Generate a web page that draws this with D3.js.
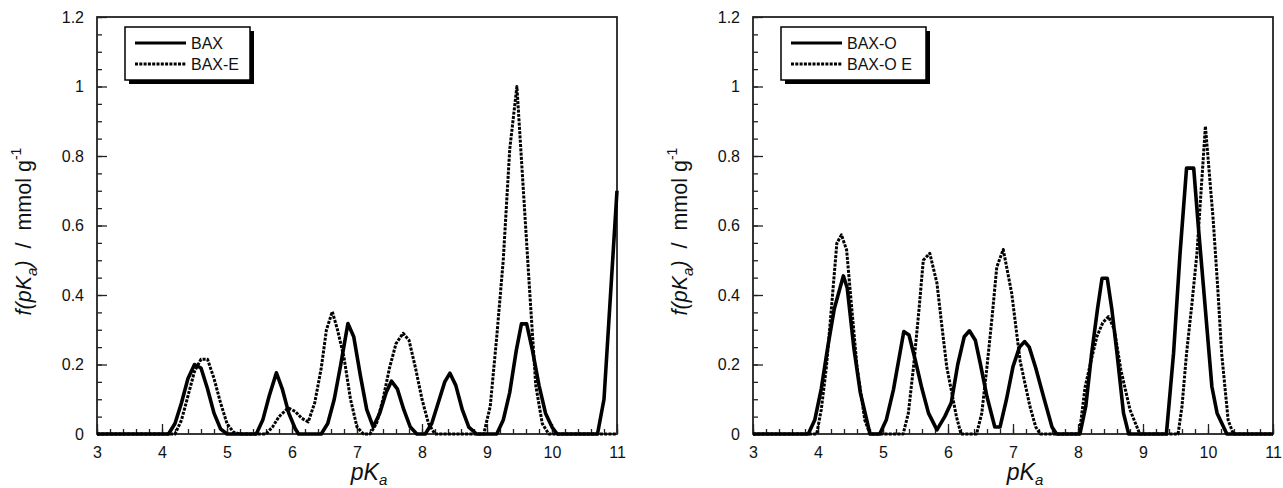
<!DOCTYPE html>
<html>
<head>
<meta charset="utf-8">
<script src="https://cdn.jsdelivr.net/npm/d3@7"></script>
<style>
  body { margin: 0; background: #fff; }
  text { font-family: "Liberation Sans", Arial, sans-serif; fill: #111; }
</style>
</head>
<body>
<div id="chart"></div>
<script>
// left panel: BAX / BAX-E
const baxX = [3, 4.1, 4.2, 4.3, 4.4, 4.5, 4.6, 4.7, 4.8, 4.9, 5.0, 5.45, 5.55, 5.65, 5.76, 5.85, 5.95, 6.05, 6.1,
  6.45, 6.55, 6.65, 6.75, 6.86, 6.95, 7.05, 7.15, 7.25, 7.35, 7.45, 7.53, 7.62, 7.72, 7.82, 7.92,
  8.05, 8.15, 8.25, 8.35, 8.43, 8.52, 8.62, 8.72, 8.84, 9.15, 9.25, 9.35, 9.45, 9.53, 9.61, 9.7, 9.8, 9.9, 10.0, 10.08,
  10.7, 10.8, 11];
const baxY = [0, 0, 0.03, 0.09, 0.16, 0.2, 0.19, 0.13, 0.06, 0.015, 0, 0, 0.04, 0.11, 0.176, 0.13, 0.06, 0.015, 0,
  0, 0.03, 0.1, 0.2, 0.318, 0.28, 0.17, 0.07, 0.02, 0.06, 0.12, 0.152, 0.13, 0.07, 0.02, 0,
  0, 0.03, 0.09, 0.15, 0.175, 0.14, 0.07, 0.02, 0, 0, 0.04, 0.12, 0.24, 0.317, 0.317, 0.24, 0.14, 0.06, 0.02, 0,
  0, 0.1, 0.7];

const baxEX = [3, 4.2, 4.3, 4.4, 4.5, 4.6, 4.7, 4.8, 4.9, 5.0, 5.1, 5.2, 5.6, 5.7, 5.8, 5.94, 6.05, 6.15, 6.25,
  6.35, 6.45, 6.53, 6.62, 6.7, 6.8, 6.9, 7.0, 7.1, 7.2, 7.3, 7.4, 7.5, 7.6, 7.71, 7.8, 7.9, 8.0, 8.1, 8.2,
  8.95, 9.05, 9.15, 9.25, 9.35, 9.46, 9.55, 9.65, 9.75, 9.85, 9.95, 11];
const baxEY = [0, 0, 0.04, 0.11, 0.18, 0.215, 0.215, 0.16, 0.09, 0.03, 0.005, 0, 0, 0.02, 0.05, 0.075, 0.065, 0.045, 0.035,
  0.09, 0.19, 0.3, 0.352, 0.3, 0.22, 0.1, 0.02, 0, 0, 0.03, 0.1, 0.19, 0.26, 0.29, 0.27, 0.19, 0.1, 0.03, 0,
  0, 0.08, 0.28, 0.5, 0.82, 1.0, 0.73, 0.43, 0.14, 0.03, 0, 0];

// right panel: BAX-O / BAX-O E
const baxOX = [3, 3.85, 3.95, 4.05, 4.15, 4.25, 4.39, 4.45, 4.55, 4.65, 4.7, 4.8, 4.95, 5.05, 5.16, 5.32, 5.4, 5.5, 5.6, 5.7, 5.83,
  5.95, 6.05, 6.15, 6.25, 6.33, 6.42, 6.5, 6.6, 6.72, 6.8, 6.9, 7.0, 7.1, 7.18, 7.25, 7.35, 7.47, 7.6, 7.67,
  8.03, 8.12, 8.21, 8.3, 8.37, 8.45, 8.52, 8.6, 8.7, 8.78, 9.36, 9.47, 9.57, 9.67, 9.78, 9.85, 9.93, 10.06, 10.14, 10.29, 11];
const baxOY = [0, 0, 0.04, 0.13, 0.25, 0.36, 0.455, 0.42, 0.25, 0.12, 0.08, 0, 0, 0.04, 0.127, 0.295, 0.285, 0.21, 0.13, 0.06, 0.012,
  0.05, 0.09, 0.2, 0.28, 0.297, 0.27, 0.2, 0.107, 0.02, 0.02, 0.1, 0.194, 0.25, 0.266, 0.25, 0.19, 0.107, 0.02, 0,
  0, 0.08, 0.232, 0.36, 0.448, 0.448, 0.36, 0.232, 0.06, 0, 0, 0.232, 0.52, 0.765, 0.765, 0.6, 0.424, 0.136, 0.06, 0, 0];

const baxOEX = [3, 3.98, 4.05, 4.13, 4.21, 4.29, 4.36, 4.44, 4.52, 4.6, 4.72, 4.8, 5.31, 5.39, 5.47, 5.55, 5.62, 5.72, 5.83, 5.9, 5.98, 6.13, 6.2,
  6.44, 6.52, 6.6, 6.68, 6.75, 6.85, 6.98, 7.11, 7.26, 7.35, 7.42, 8.02, 8.11, 8.2, 8.29, 8.38, 8.47, 8.56, 8.66, 8.8, 8.95,
  9.54, 9.6, 9.67, 9.75, 9.83, 9.96, 10.08, 10.15, 10.21, 10.31, 10.39, 11];
const baxOEY = [0, 0, 0.07, 0.194, 0.37, 0.549, 0.573, 0.53, 0.36, 0.194, 0.04, 0, 0, 0.06, 0.194, 0.35, 0.5, 0.52, 0.434, 0.32, 0.194, 0.05, 0,
  0, 0.06, 0.194, 0.34, 0.48, 0.531, 0.405, 0.21, 0.08, 0.02, 0, 0, 0.136, 0.21, 0.28, 0.32, 0.338, 0.3, 0.184, 0.07, 0,
  0, 0.08, 0.232, 0.37, 0.52, 0.886, 0.616, 0.42, 0.232, 0.04, 0, 0];

const xTickLabels = [3, 4, 5, 6, 7, 8, 9, 10, 11];
const yTickLabels = [0, 0.2, 0.4, 0.6, 0.8, 1, 1.2];

const panels = [
  { left: 97, series: [
      { name: "BAX", xs: baxX, ys: baxY, dash: null },
      { name: "BAX-E", xs: baxEX, ys: baxEY, dash: "3,1.3" }],
    legendW: 125 },
  { left: 753, series: [
      { name: "BAX-O", xs: baxOX, ys: baxOY, dash: null },
      { name: "BAX-O E", xs: baxOEX, ys: baxOEY, dash: "3,1.3" }],
    legendW: 145 }
];

document.addEventListener('DOMContentLoaded', () => {
  const top = 17, plotW = 520, plotH = 417;

  const svg = d3.select("#chart")
    .append("svg")
    .attr("width", 1283)
    .attr("height", 488);

  panels.forEach(p => {
    const g = svg.append("g").attr("transform", `translate(${p.left},${top})`);

    const x = d3.scaleLinear().domain([3, 11]).range([0, plotW]);
    const y = d3.scaleLinear().domain([0, 1.2]).range([plotH, 0]);

    // minor ticks
    g.append("g")
      .attr("transform", `translate(0,${plotH})`)
      .call(d3.axisBottom(x).tickValues(d3.range(3, 11.01, 0.2)).tickSize(-5).tickFormat(""))
      .call(a => a.select(".domain").remove());
    g.append("g")
      .call(d3.axisLeft(y).tickValues(d3.range(0, 1.201, 0.05)).tickSize(-5).tickFormat(""))
      .call(a => a.select(".domain").remove());

    // major ticks + labels
    g.append("g")
      .attr("transform", `translate(0,${plotH})`)
      .call(d3.axisBottom(x).tickValues(xTickLabels).tickSize(-10).tickFormat(d => d))
      .call(a => a.select(".domain").remove())
      .selectAll("text").attr("y", 13).style("font-size", "16px").attr("fill", "#111");
    g.append("g")
      .call(d3.axisLeft(y).tickValues(yTickLabels).tickSize(-10).tickFormat(d => String(+d.toFixed(1))))
      .call(a => a.select(".domain").remove())
      .selectAll("text").attr("x", -13).style("font-size", "16px").attr("fill", "#111");

    g.selectAll(".tick line").attr("stroke", "#222").attr("stroke-width", 1.3);
    g.selectAll(".tick text").attr("font-family", "Liberation Sans, Arial, sans-serif");

    // frame
    g.append("rect")
      .attr("width", plotW).attr("height", plotH)
      .attr("fill", "none").attr("stroke", "#222").attr("stroke-width", 1.8);

    // curves
    const line = d3.line().x(d => x(d[0])).y(d => y(d[1]));
    p.series.forEach(s => {
      const pts = s.xs.map((v, i) => [v, s.ys[i]]);
      g.append("path")
        .datum(pts)
        .attr("d", line)
        .attr("fill", "none")
        .attr("stroke", "#000")
        .attr("stroke-width", s.dash ? 3 : 3.6)
        .attr("stroke-linejoin", "round")
        .attr("stroke-dasharray", s.dash);
    });

    // legend
    const lg = g.append("g").attr("transform", "translate(28,10)");
    lg.append("rect").attr("x", 4).attr("y", 4).attr("width", p.legendW).attr("height", 53).attr("fill", "#000");
    lg.append("rect").attr("width", p.legendW).attr("height", 53)
      .attr("fill", "#fff").attr("stroke", "#000").attr("stroke-width", 1.5);
    p.series.forEach((s, i) => {
      const yy = 16 + i * 21;
      lg.append("line").attr("x1", 10).attr("x2", 61).attr("y1", yy).attr("y2", yy)
        .attr("stroke", "#000").attr("stroke-width", 3).attr("stroke-dasharray", s.dash);
      lg.append("text").attr("x", 66).attr("y", yy + 6).style("font-size", "16px").text(s.name);
    });

    // axis titles
    const xt = g.append("text")
      .attr("x", plotW / 2 + 12).attr("y", plotH + 46)
      .attr("text-anchor", "middle").style("font-size", "23px");
    xt.append("tspan").attr("font-style", "italic").text("pK");
    xt.append("tspan").attr("font-style", "italic").attr("dy", 5).style("font-size", "15px").text("a");

    const yt = g.append("text")
      .attr("transform", `translate(-66,${plotH / 2 + 6}) rotate(-90)`)
      .attr("text-anchor", "middle").style("font-size", "21.5px");
    yt.append("tspan").attr("font-style", "italic").text("f(pK");
    yt.append("tspan").attr("font-style", "italic").attr("dy", 6).style("font-size", "15px").text("a");
    yt.append("tspan").attr("font-style", "italic").attr("dy", -6).text(")");
    yt.append("tspan").text("\u00a0\u00a0/\u00a0\u00a0mmol g");
    yt.append("tspan").attr("dy", -10).style("font-size", "14px").text("-1");
  });
});
</script>
</body>
</html>
